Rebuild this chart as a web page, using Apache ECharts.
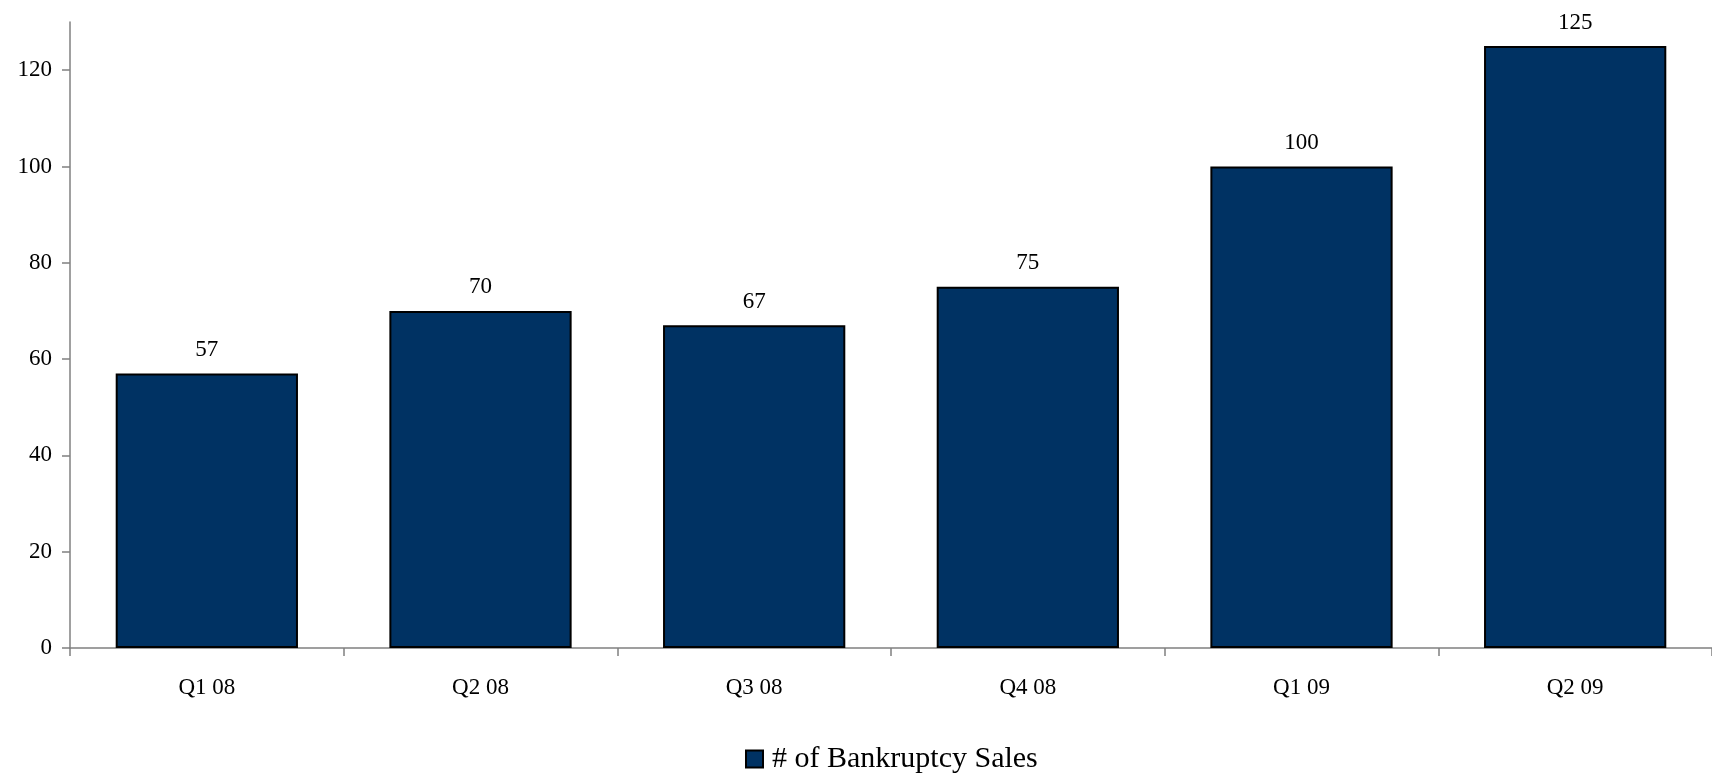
<!DOCTYPE html>
<html>
<head>
<meta charset="utf-8">
<script src="https://cdn.jsdelivr.net/npm/echarts@6/dist/echarts.min.js"></script>
<style>
  html, body { margin: 0; padding: 0; background: #fff; }
  #chart { width: 1712px; height: 774px; }
</style>
</head>
<body>
<div id="chart"></div>
<script>
// data
var quarters = ['Q1 08', 'Q2 08', 'Q3 08', 'Q4 08', 'Q1 09', 'Q2 09'];
var salesCount = [57, 70, 67, 75, 100, 125];
var yTicks = [0, 20, 40, 60, 80, 100, 120];
var seriesName = '# of Bankruptcy Sales';

var font = 'Liberation Serif';
var myChart = echarts.init(document.getElementById('chart'));

var option = {
  animation: false,
  textStyle: { fontFamily: font },
  grid: { left: 70, right: -2, top: 22, bottom: 126, containLabel: false },
  legend: {
    left: 740,
    top: 739,
    icon: 'rect',
    itemWidth: 17,
    itemHeight: 17,
    textStyle: { fontFamily: font, fontSize: 30, color: '#000', padding: [0, 0, 0, 4] },
    data: [seriesName]
  },
  xAxis: {
    type: 'category',
    data: quarters,
    axisLine: { lineStyle: { color: '#808080', width: 1.5 } },
    axisTick: { show: true, length: 8, lineStyle: { color: '#808080', width: 1.5 } },
    axisLabel: { margin: 28, fontFamily: font, fontSize: 23, color: '#000' }
  },
  yAxis: {
    type: 'value',
    min: 0,
    max: 130,
    interval: 20,
    splitLine: { show: false },
    axisLine: { show: true, lineStyle: { color: '#808080', width: 1.5 } },
    axisTick: { show: true, length: 8, customValues: yTicks, lineStyle: { color: '#808080', width: 1.5 } },
    axisLabel: { margin: 18, customValues: yTicks, fontFamily: font, fontSize: 23, color: '#000' }
  },
  series: [{
    name: seriesName,
    type: 'bar',
    barWidth: '66.6%',
    data: salesCount,
    itemStyle: { color: '#003263', borderColor: '#000', borderWidth: 2 },
    label: {
      show: true,
      position: 'top',
      distance: 12,
      fontFamily: font,
      fontSize: 23,
      color: '#000'
    }
  }]
};

myChart.setOption(option);
</script>
</body>
</html>
